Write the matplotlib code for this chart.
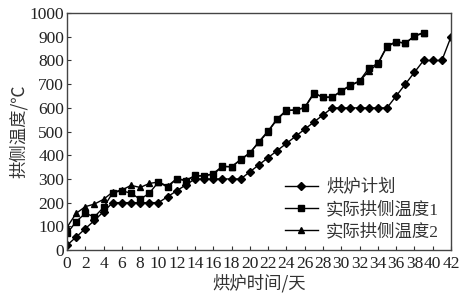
import matplotlib.pyplot as plt
import numpy as np

plt.rcParams['font.family'] = ['Liberation Serif', 'Noto Sans CJK SC']

days_plan = list(range(0, 43))
plan = [20, 55, 90, 125, 162, 200, 200, 200, 200, 200, 200, 225, 250, 275, 300,
        300, 300, 300, 300, 300, 330, 360, 390, 420, 450, 480, 510, 540, 570, 600,
        600, 600, 600, 600, 600, 600, 650, 700, 750, 800, 800, 800, 900]

days_act = list(range(0, 40))
actual1 = [70, 120, 155, 140, 180, 242, 250, 240, 214, 240, 287, 265, 301, 292,
           315, 312, 323, 354, 351, 383, 410, 458, 503, 555, 590, 590, 602, 664,
           644, 644, 672, 696, 714, 767, 788, 861, 880, 872, 904, 918]
actual2 = [96, 155, 183, 194, 214, 245, 253, 273, 264, 281, 287, 270, 301, 295,
           312, 314, 320, 352, 352, 380, 410, 455, 500, 552, 588, 592, 600, 660,
           646, 646, 670, 694, 712, 755, 785, 858, 878, 874, 902, 916]

fig = plt.figure(figsize=(4.76, 2.98), dpi=100)
ax = fig.add_axes([0.1408, 0.161, 0.8067, 0.795])

ax.plot(days_plan, plan, color='black', lw=1, marker='D', ms=4.5, label='烘炉计划')
ax.plot(days_act, actual1, color='black', lw=1, marker='s', ms=5, label='实际拱侧温度1')
ax.plot(days_act, actual2, color='black', lw=1, marker='^', ms=5, label='实际拱侧温度2')

ax.set_xlim(0, 42)
ax.set_ylim(0, 1000)
ax.set_xticks(np.arange(0, 43, 2))
ax.set_yticks(np.arange(0, 1001, 100))
ax.tick_params(direction='in', length=3, labelsize=12.5, pad=2, color='#333333',
               labelcolor='#222222')
ax.tick_params(axis='x', pad=4)
for s in ax.spines.values():
    s.set_color('#444444')
    s.set_linewidth(1)

ax.set_xlabel('烘炉时间/天', fontsize=12.5, family=['Noto Sans CJK SC'], labelpad=2, color='#333333')
ax.set_ylabel('拱侧温度/℃', fontsize=12.5, family=['Noto Sans CJK SC', 'DejaVu Sans'], labelpad=1, color='#333333')

leg = ax.legend(loc='lower right', bbox_to_anchor=(1.01, -0.025), frameon=False,
                handlelength=1.9, handletextpad=0.5, labelspacing=0.3,
                prop={'family': ['Liberation Serif', 'Noto Sans CJK SC'], 'size': 12.5})
for t in leg.get_texts():
    t.set_color('#333333')

fig.savefig('out.png', dpi=100)
